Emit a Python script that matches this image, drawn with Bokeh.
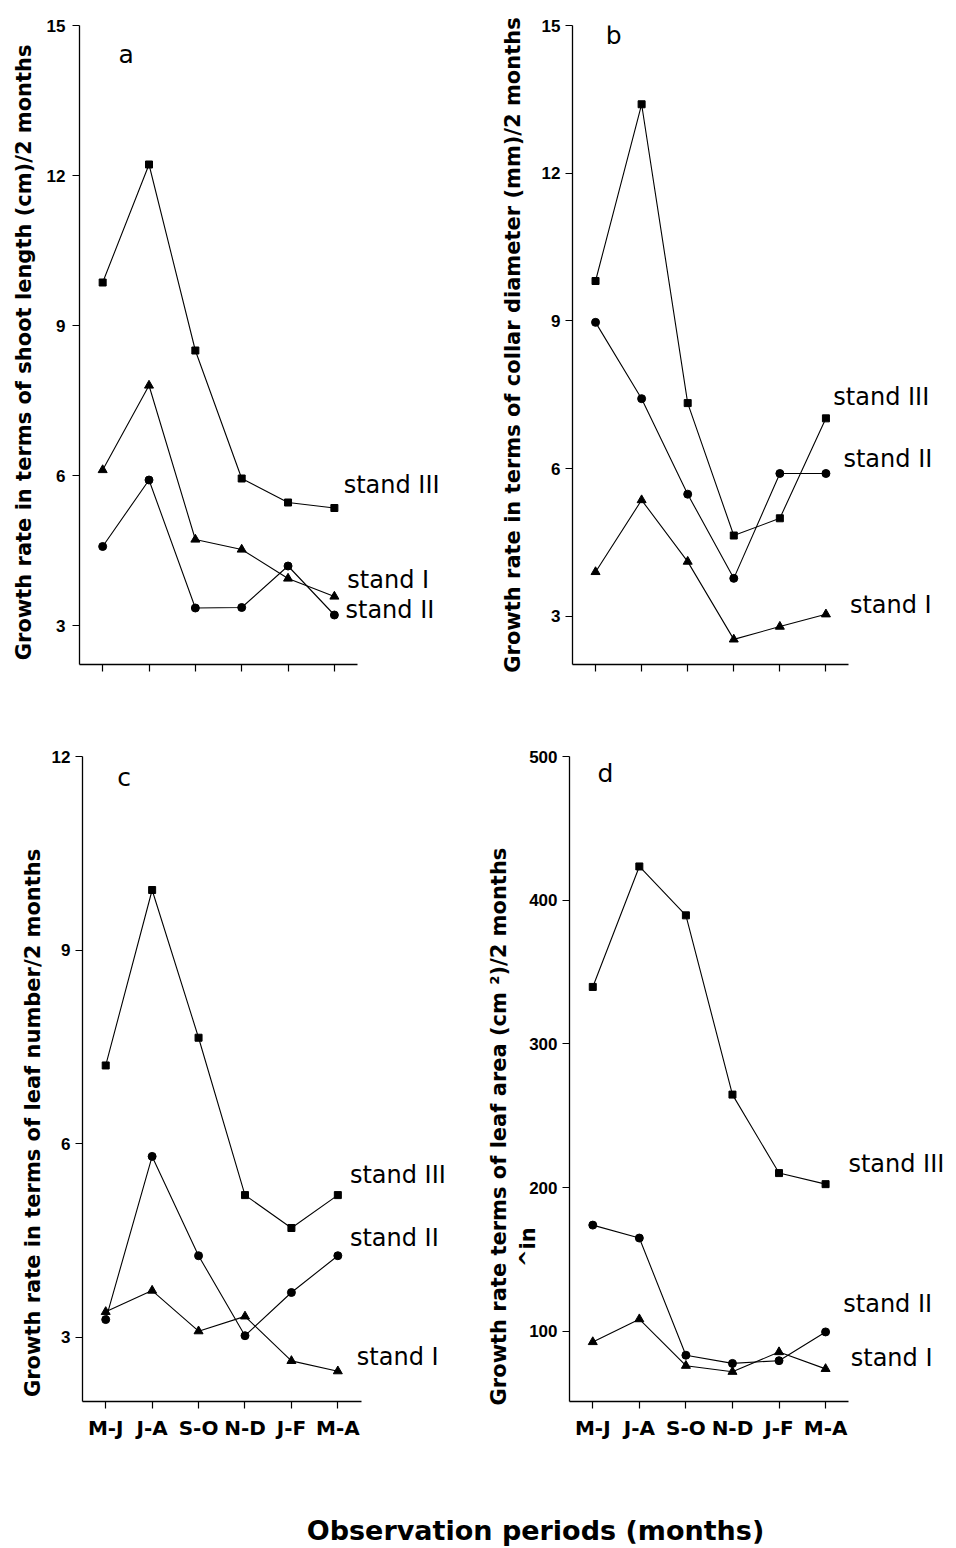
import math
from bokeh.plotting import figure
from bokeh.layouts import column, row
from bokeh.models import Label, FixedTicker
from bokeh.embed import file_html
from bokeh.resources import INLINE

# ---------------- data ----------------
periods = ["M-J", "J-A", "S-O", "N-D", "J-F", "M-A"]

# (a) shoot length (cm)/2 months
a_stand1 = [6.11, 7.80, 4.72, 4.52, 3.94, 3.58]
a_stand2 = [4.58, 5.91, 3.35, 3.36, 4.19, 3.21]
a_stand3 = [9.86, 12.22, 8.50, 5.94, 5.46, 5.35]
# (b) collar diameter (mm)/2 months
b_stand1 = [3.90, 5.36, 4.11, 2.53, 2.79, 3.04]
b_stand2 = [8.97, 7.42, 5.48, 3.77, 5.90, 5.90]
b_stand3 = [9.81, 13.40, 7.33, 4.64, 4.99, 7.02]
# (c) leaf number/2 months
c_stand1 = [3.39, 3.72, 3.09, 3.32, 2.63, 2.47]
c_stand2 = [3.27, 5.80, 4.26, 3.02, 3.69, 4.26]
c_stand3 = [7.21, 9.93, 7.64, 5.20, 4.69, 5.20]
# (d) leaf area (cm2)/2 months
d_stand1 = [92.7, 108.6, 76.2, 72.0, 85.7, 74.0]
d_stand2 = [174.0, 165.0, 83.5, 77.8, 79.7, 99.7]
d_stand3 = [339.7, 423.5, 389.5, 264.8, 210.2, 202.5]

yticks_a = [3, 6, 9, 12, 15]
yticks_b = [3, 6, 9, 12, 15]
yticks_c = [3, 6, 9, 12]
yticks_d = [100, 200, 300, 400, 500]

ytitle_a = "Growth rate in terms of shoot length (cm)/2 months"
ytitle_b = "Growth rate in terms of collar diameter (mm)/2 months"
ytitle_c = "Growth rate in terms of leaf number/2 months"
ytitle_d = "Growth rate terms of leaf area (cm \u00b2)/2 months"
ytitle_d_insert = "^in"
xtitle = "Observation periods (months)"
series_names = ["stand I", "stand II", "stand III"]
markers = ["triangle", "circle", "square"]

xs = list(range(1, len(periods) + 1))

TICK_FONT = "Liberation Sans"
TITLE_FONT = "DejaVu Sans"
NB = "\u00a0"


def make_panel(width, height, borders, xmax, yrange, yticks, ytitle, series,
               show_xlabels, letter, letter_pos, label_pos,
               label_standoff, title_standoff):
    bl, br, bt, bb = borders
    p = figure(width=width, height=height, output_backend="svg",
               toolbar_location=None, x_range=(0.5, xmax), y_range=yrange,
               min_border_left=bl, min_border_right=br,
               min_border_top=bt, min_border_bottom=bb)
    p.outline_line_color = None
    p.background_fill_color = "white"
    p.border_fill_color = "white"
    p.grid.visible = False

    for vals, mk in zip(series, markers):
        p.line(xs, vals, line_color="black", line_width=1.1)
        size = {"triangle": 9, "circle": 8, "square": 7}[mk]
        p.scatter(xs, vals, marker=mk, size=size, fill_color="black",
                  line_color="black")

    # axes
    p.xaxis.ticker = FixedTicker(ticks=xs)
    p.xaxis.bounds = (0.5, 6.5)
    if show_xlabels:
        p.xaxis.major_label_overrides = {i: lab for i, lab in zip(xs, periods)}
        p.xaxis.major_label_text_font = TITLE_FONT
        p.xaxis.major_label_text_font_style = "bold"
        p.xaxis.major_label_text_font_size = "20px"
        p.xaxis.major_label_standoff = 7
    else:
        p.xaxis.major_label_overrides = {i: "" for i in xs}
        p.xaxis.major_label_text_font_size = "1px"
    p.yaxis.ticker = FixedTicker(ticks=yticks)
    p.yaxis.major_label_text_font = TICK_FONT
    p.yaxis.major_label_text_font_style = "bold"
    p.yaxis.major_label_text_font_size = "17px"
    p.yaxis.major_label_standoff = label_standoff
    for ax in (p.xaxis, p.yaxis):
        ax.axis_line_color = "black"
        ax.axis_line_width = 1.3
        ax.major_tick_line_color = "black"
        ax.major_tick_line_width = 1.2
        ax.major_tick_out = 7
        ax.major_tick_in = 0
        ax.minor_tick_line_color = None
        ax.major_label_text_color = "black"
    p.yaxis.axis_label = ytitle
    p.yaxis.axis_label_text_font = TITLE_FONT
    p.yaxis.axis_label_text_font_style = "bold"
    p.yaxis.axis_label_text_font_size = "21px"
    p.yaxis.axis_label_text_color = "black"
    p.yaxis.axis_label_standoff = title_standoff

    # panel letter
    p.add_layout(Label(x=letter_pos[0], y=letter_pos[1], text=letter,
                       text_font=TITLE_FONT, text_font_size="25px",
                       text_color="black", text_baseline="alphabetic"))
    # series labels
    for name, (lx, ly) in zip(series_names, label_pos):
        p.add_layout(Label(x=lx, y=ly, text=name, text_font=TITLE_FONT,
                           text_font_size="24px", text_color="black",
                           text_baseline="alphabetic", text_align="left"))
    return p


# axis titles shifted along the axis with trailing no-break spaces
pa = make_panel(480, 740, (79, 2, 25, 76), 9.11, (2.22, 15), yticks_a,
                ytitle_a + NB * 2,
                [a_stand1, a_stand2, a_stand3], False, "a", (1.34, 14.43),
                [(6.28, 3.91), (6.24, 3.31), (6.20, 5.81)], 7, 8)
pb = make_panel(470, 740, (92, 2, 16, 74), 8.66, (2.02, 15), yticks_b,
                ytitle_b,
                [b_stand1, b_stand2, b_stand3], False, "b", (1.22, 14.79),
                [(6.52, 3.23), (6.38, 6.2), (6.16, 7.45)], 5, 14)
pc = make_panel(480, 730, (82, 2, 16, 64), 9.03, (2.0, 12), yticks_c,
                ytitle_c + NB * 12,
                [c_stand1, c_stand2, c_stand3], True, "c", (1.25, 11.68),
                [(6.41, 2.69), (6.26, 4.54), (6.26, 5.51)], 5, 4)
pd_ = make_panel(470, 730, (89, 2, 12, 69), 8.64, (51.3, 500), yticks_d,
                 ytitle_d + NB * 13 + "\n" + ytitle_d_insert + NB * 46,
                 [d_stand1, d_stand2, d_stand3], True, "d", (1.10, 488.5),
                 [(6.54, 81.3), (6.38, 119.3), (6.49, 216.2)], 5, -14)

# shared x title
pt = figure(width=950, height=76, output_backend="svg", toolbar_location=None,
            x_range=(0, 950), y_range=(0, 76), min_border=0)
pt.axis.visible = False
pt.grid.visible = False
pt.outline_line_color = None
pt.add_layout(Label(x=535, y=16, text=xtitle, text_font=TITLE_FONT,
                    text_font_style="bold", text_font_size="27px",
                    text_color="black", text_align="center",
                    text_baseline="alphabetic"))

layout = column(row(pa, pb), row(pc, pd_), pt)

html = file_html(layout, INLINE)
open("out.html", "w").write(html)
